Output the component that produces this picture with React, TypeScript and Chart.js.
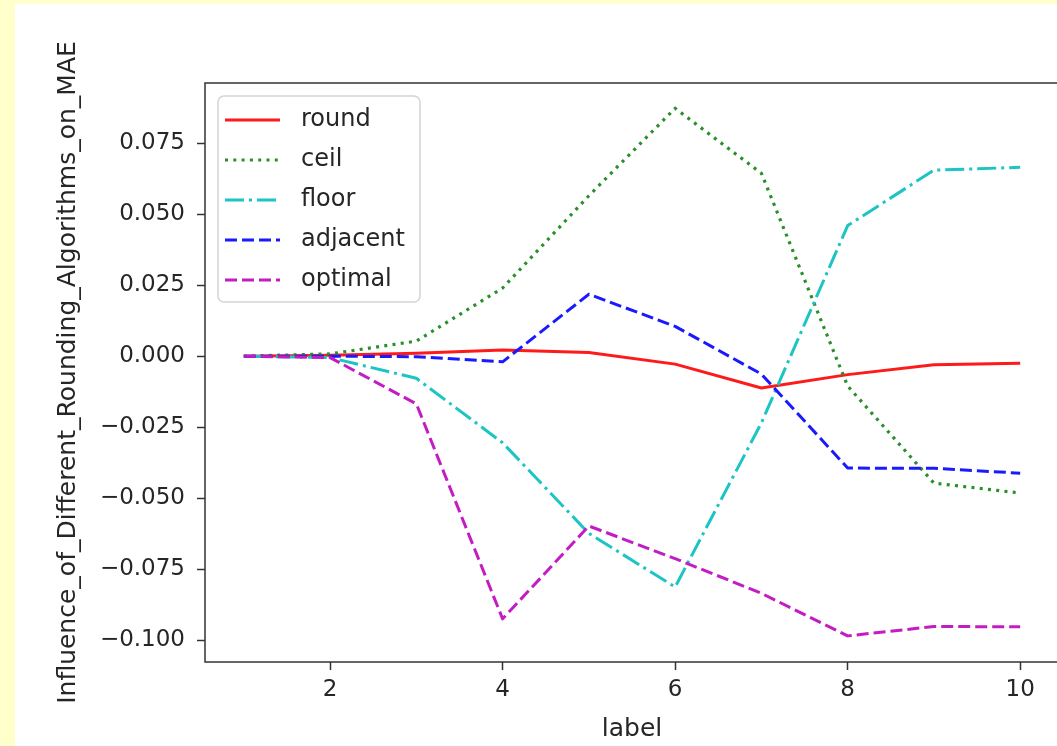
import React, { useEffect, useRef } from 'react';
import { Chart, registerables } from 'chart.js';

Chart.register(...registerables);

const xValues = [1, 2, 3, 4, 5, 6, 7, 8, 9, 10];
const xTicks = [2, 4, 6, 8, 10];
const yTicks = [-0.1, -0.075, -0.05, -0.025, 0, 0.025, 0.05, 0.075];
const seriesNames = ['round', 'ceil', 'floor', 'adjacent', 'optimal'];
const roundValues = [0, 0.0003, 0.001, 0.0022, 0.0013, -0.0028, -0.0112, -0.0065, -0.003, -0.0025];
const ceilValues = [0, 0.0008, 0.0053, 0.024, 0.0565, 0.0873, 0.0644, -0.0105, -0.0447, -0.0482];
const floorValues = [0, -0.0005, -0.0078, -0.0305, -0.0624, -0.0813, -0.0235, 0.046, 0.0655, 0.0665];
const adjacentValues = [0, 0, -0.0002, -0.002, 0.0218, 0.0105, -0.0063, -0.0394, -0.0395, -0.0412];
const optimalValues = [0, -0.0005, -0.0168, -0.0925, -0.0598, -0.0713, -0.0835, -0.0985, -0.0952, -0.0953];
const xLabel = 'label';
const yLabel = 'Influence_of_Different_Rounding_Algorithms_on_MAE';

const toPoints = (vals: number[]) => vals.map((v, i) => ({ x: xValues[i], y: v }));

const framePlugin = {
  id: 'frame',
  afterDatasetsDraw(chart: any) {
    const { ctx, chartArea: a } = chart;
    ctx.save();
    ctx.strokeStyle = '#333';
    ctx.lineWidth = 1.5;
    ctx.strokeRect(a.left, a.top, a.right - a.left, a.bottom - a.top);
    ctx.restore();
  },
};

const legendPlugin = {
  id: 'boxLegend',
  afterDraw(chart: any) {
    const { ctx, chartArea: a } = chart;
    const x0 = a.left + 13;
    const y0 = a.top + 13;
    const w = 202;
    const h = 206;
    ctx.save();
    ctx.beginPath();
    ctx.roundRect(x0, y0, w, h, 6);
    ctx.fillStyle = 'rgba(255,255,255,0.85)';
    ctx.fill();
    ctx.strokeStyle = '#d4d4d4';
    ctx.lineWidth = 1.5;
    ctx.stroke();
    chart.data.datasets.forEach((ds: any, i: number) => {
      const y = y0 + 24 + 40 * i;
      ctx.beginPath();
      ctx.setLineDash(ds.borderDash || []);
      ctx.strokeStyle = ds.borderColor;
      ctx.lineWidth = ds.borderWidth;
      ctx.lineCap = 'butt';
      ctx.moveTo(x0 + 7, y);
      ctx.lineTo(x0 + 62, y);
      ctx.stroke();
      ctx.setLineDash([]);
      ctx.fillStyle = '#262626';
      ctx.font = '24px "DejaVu Sans"';
      ctx.textBaseline = 'middle';
      ctx.textAlign = 'left';
      ctx.fillText(ds.label, x0 + 83, y);
    });
    ctx.restore();
  },
};

export default function App() {
  const ref = useRef<HTMLCanvasElement>(null);

  useEffect(() => {
    if (!ref.current) return;
    const tickFont = { family: '"DejaVu Sans"', size: 23 };
    const titleFont = { family: '"DejaVu Sans"', size: 25 };
    const chart = new Chart(ref.current, {
      type: 'line',
      data: {
        datasets: [
          { label: seriesNames[0], data: toPoints(roundValues), borderColor: '#ff1a1a', borderWidth: 3, borderDash: [], order: 5 },
          { label: seriesNames[1], data: toPoints(ceilValues), borderColor: '#2a8f2a', borderWidth: 3.2, borderDash: [3, 5.3], order: 4 },
          { label: seriesNames[2], data: toPoints(floorValues), borderColor: '#1cc4c4', borderWidth: 3, borderDash: [19, 5, 3, 5], order: 3 },
          { label: seriesNames[3], data: toPoints(adjacentValues), borderColor: '#1a1aff', borderWidth: 3, borderDash: [12, 5], order: 2 },
          { label: seriesNames[4], data: toPoints(optimalValues), borderColor: '#c41cc4', borderWidth: 3, borderDash: [12, 5], order: 1 },
        ].map((d) => ({
          ...d,
          pointRadius: 0,
          tension: 0,
          fill: false,
          borderCapStyle: 'butt' as const,
          borderJoinStyle: 'round' as const,
        })),
      },
      options: {
        animation: false,
        responsive: false,
        devicePixelRatio: 1,
        layout: { padding: { top: 79, left: 0, right: 16, bottom: 0 } },
        plugins: { legend: { display: false }, tooltip: { enabled: false } },
        scales: {
          x: {
            type: 'linear',
            min: 0.55,
            max: 10.45,
            afterBuildTicks: (s: any) => {
              s.ticks = xTicks.map((v) => ({ value: v }));
            },
            afterFit: (s: any) => {
              s.height = 84;
            },
            border: { display: false },
            grid: { drawOnChartArea: false, drawTicks: true, tickLength: 8, tickColor: '#333', tickWidth: 1.5 },
            ticks: { font: tickFont, color: '#262626', padding: 6, maxRotation: 0, callback: (v: any) => String(v) },
            title: { display: true, text: xLabel, font: titleFont, color: '#262626', padding: { top: 0, bottom: 2 } },
          },
          y: {
            type: 'linear',
            min: -0.1077,
            max: 0.0962,
            afterBuildTicks: (s: any) => {
              s.ticks = yTicks.map((v) => ({ value: v }));
            },
            afterFit: (s: any) => {
              s.width = 190;
            },
            border: { display: false },
            grid: { drawOnChartArea: false, drawTicks: true, tickLength: 8, tickColor: '#333', tickWidth: 1.5 },
            ticks: {
              font: tickFont,
              color: '#262626',
              padding: 12,
              callback: (v: any) => {
                const n = Number(v);
                return (n < 0 ? '\u2212' : '') + Math.abs(n).toFixed(3);
              },
            },
            title: { display: true, text: yLabel, font: titleFont, color: '#262626', padding: { top: 38, bottom: 0 } },
          },
        },
      },
      plugins: [framePlugin, legendPlugin],
    } as any);
    return () => chart.destroy();
  }, []);

  return (
    <div style={{ position: 'fixed', left: 0, top: 0, width: 1057, height: 746, background: '#ffffcc', overflow: 'hidden' }}>
      <div style={{ position: 'absolute', left: 15, top: 4, width: 1060, height: 742, background: '#ffffff' }}>
        <canvas ref={ref} width={1060} height={742} style={{ display: 'block' }} />
      </div>
    </div>
  );
}
